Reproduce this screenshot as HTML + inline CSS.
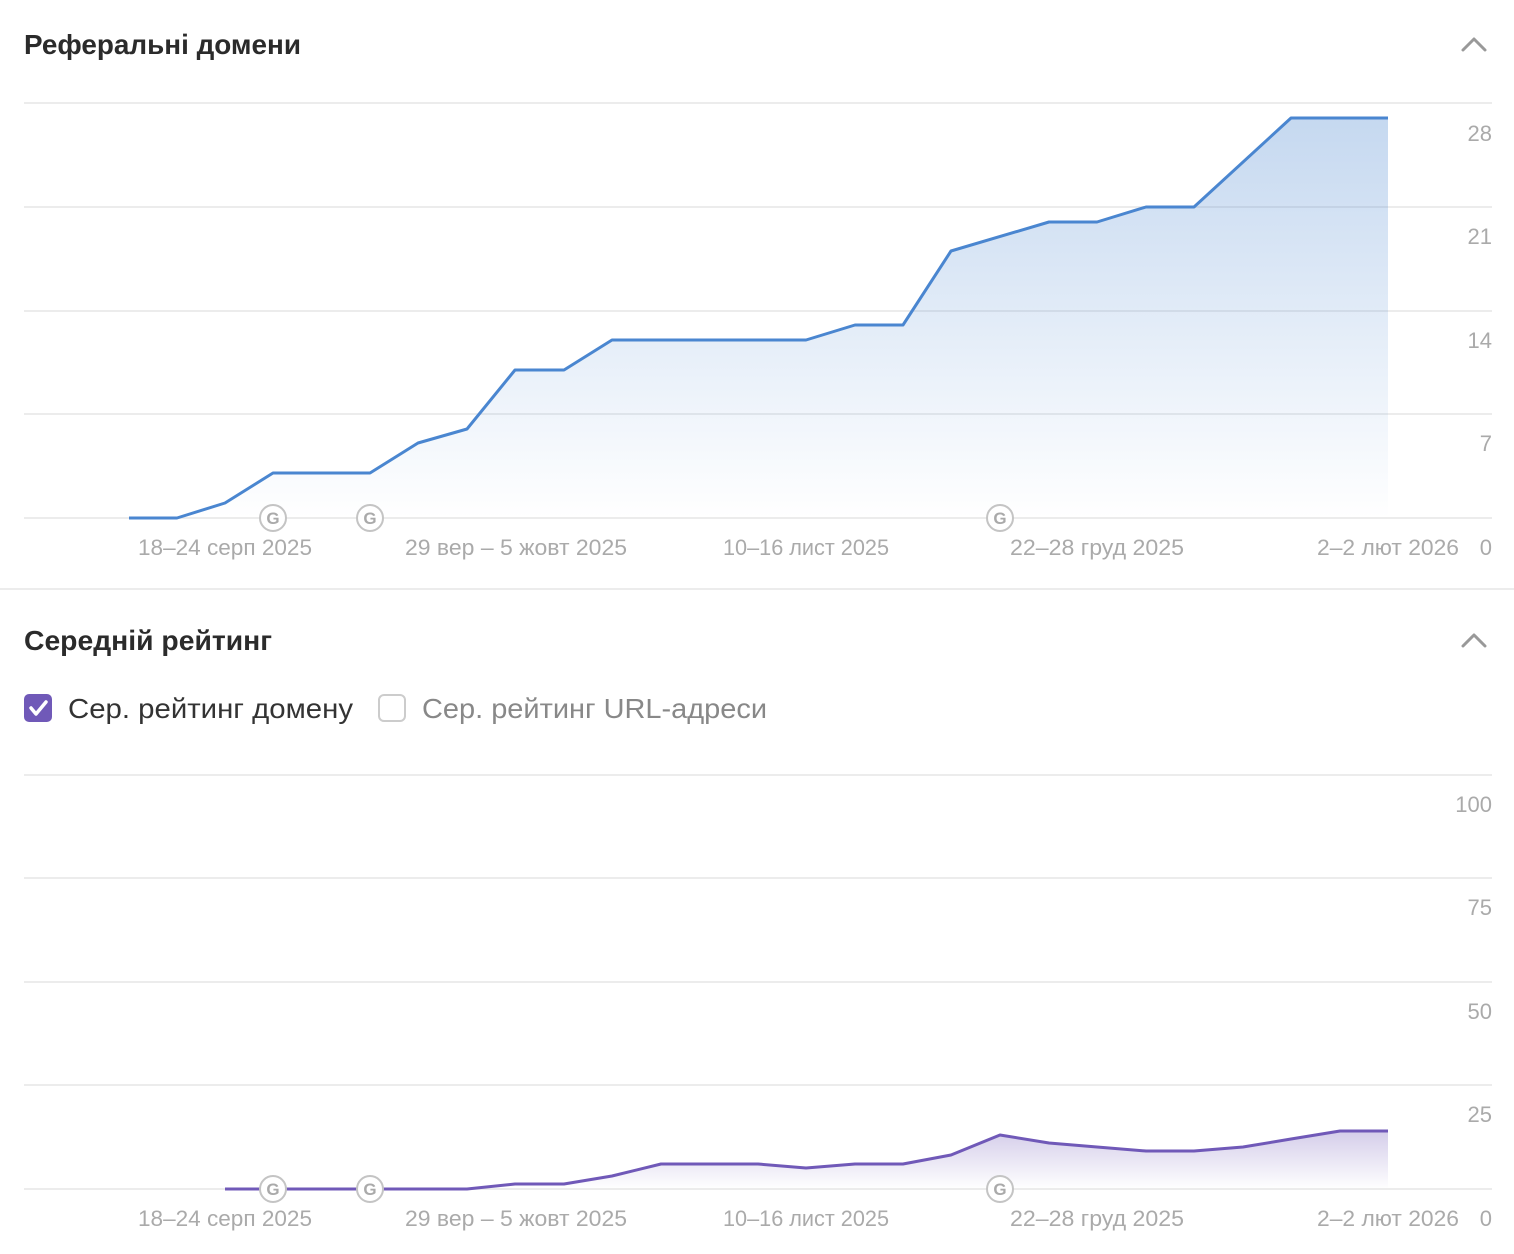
<!DOCTYPE html>
<html><head><meta charset="utf-8"><style>
html,body{margin:0;padding:0;background:#fff;}
svg{display:block;font-family:"Liberation Sans",sans-serif;}
</style></head><body>
<svg width="1514" height="1254" viewBox="0 0 1514 1254" xmlns="http://www.w3.org/2000/svg">
<defs>
<linearGradient id="g1" x1="0" y1="0" x2="0" y2="1"><stop offset="0" stop-color="#4a86d0" stop-opacity="0.32"/><stop offset="1" stop-color="#4a86d0" stop-opacity="0"/></linearGradient>
<linearGradient id="g2" x1="0" y1="0" x2="0" y2="1"><stop offset="0" stop-color="#7059b8" stop-opacity="0.3"/><stop offset="1" stop-color="#7059b8" stop-opacity="0"/></linearGradient>
</defs>
<text x="24" y="54" font-size="27.5" font-weight="bold" fill="#2b2b2b" textLength="277" lengthAdjust="spacingAndGlyphs">Реферальні домени</text>
<polyline points="1463,50 1474,39 1485,50" fill="none" stroke="#999" stroke-width="3" stroke-linecap="round" stroke-linejoin="round"/>
<g stroke="#e6e6e6" stroke-width="1.5">
<line x1="24" y1="103" x2="1492" y2="103"/><line x1="24" y1="207" x2="1492" y2="207"/><line x1="24" y1="311" x2="1492" y2="311"/><line x1="24" y1="414" x2="1492" y2="414"/><line x1="24" y1="518" x2="1492" y2="518"/>
</g>
<g font-size="22" fill="#aaa" text-anchor="end">
<text x="1492" y="141">28</text><text x="1492" y="244">21</text><text x="1492" y="348">14</text><text x="1492" y="451">7</text><text x="1492" y="555">0</text>
</g>
<polygon fill="url(#g1)" points="129,518 177,518 225,503 273,473 322,473 370,473 418,443 467,429 515,370 564,370 612,340 806,340 855,325 903,325 951,251 1049,222 1097,222 1146,207 1194,207 1291,118 1388,118 1388,518"/>
<polyline fill="none" stroke="#4a86d0" stroke-width="3" stroke-linejoin="round" points="129,518 177,518 225,503 273,473 322,473 370,473 418,443 467,429 515,370 564,370 612,340 806,340 855,325 903,325 951,251 1049,222 1097,222 1146,207 1194,207 1291,118 1388,118"/>
<g font-size="22" fill="#aaa" text-anchor="middle">
<text x="225" y="555" textLength="174" lengthAdjust="spacingAndGlyphs">18–24 серп 2025</text><text x="516" y="555" textLength="222" lengthAdjust="spacingAndGlyphs">29 вер – 5 жовт 2025</text><text x="806" y="555" textLength="166" lengthAdjust="spacingAndGlyphs">10–16 лист 2025</text><text x="1097" y="555" textLength="174" lengthAdjust="spacingAndGlyphs">22–28 груд 2025</text><text x="1388" y="555" textLength="142" lengthAdjust="spacingAndGlyphs">2–2 лют 2026</text>
</g>
<g fill="#fff" stroke="#c4c4c4" stroke-width="2">
<circle cx="273" cy="518" r="13"/><circle cx="370" cy="518" r="13"/><circle cx="1000" cy="518" r="13"/>
</g>
<g font-size="17" font-weight="bold" fill="#aaa" text-anchor="middle">
<text x="273" y="524">G</text><text x="370" y="524">G</text><text x="1000" y="524">G</text>
</g>
<line x1="0" y1="589" x2="1514" y2="589" stroke="#e6e6e6" stroke-width="1.5"/>
<text x="24" y="650" font-size="27.5" font-weight="bold" fill="#2b2b2b" textLength="248" lengthAdjust="spacingAndGlyphs">Середній рейтинг</text>
<polyline points="1463,646 1474,635 1485,646" fill="none" stroke="#999" stroke-width="3" stroke-linecap="round" stroke-linejoin="round"/>
<rect x="24" y="694" width="28" height="28" rx="5" fill="#7059b8"/>
<polyline points="31,708 36,714 46,702" fill="none" stroke="#fff" stroke-width="3.5" stroke-linecap="round" stroke-linejoin="round"/>
<text x="68" y="718" font-size="28" fill="#333" textLength="285" lengthAdjust="spacingAndGlyphs">Сер. рейтинг домену</text>
<rect x="379" y="695" width="26" height="26" rx="5" fill="#fff" stroke="#ccc" stroke-width="2"/>
<text x="422" y="718" font-size="28" fill="#888" textLength="345" lengthAdjust="spacingAndGlyphs">Сер. рейтинг URL-адреси</text>
<g stroke="#e6e6e6" stroke-width="1.5">
<line x1="24" y1="775" x2="1492" y2="775"/><line x1="24" y1="878" x2="1492" y2="878"/><line x1="24" y1="982" x2="1492" y2="982"/><line x1="24" y1="1085" x2="1492" y2="1085"/><line x1="24" y1="1189" x2="1492" y2="1189"/>
</g>
<g font-size="22" fill="#aaa" text-anchor="end">
<text x="1492" y="812">100</text><text x="1492" y="915">75</text><text x="1492" y="1019">50</text><text x="1492" y="1122">25</text><text x="1492" y="1226">0</text>
</g>
<polygon fill="url(#g2)" points="225,1189 467,1189 515,1184 564,1184 612,1176 661,1164 758,1164 806,1168 855,1164 903,1164 951,1155 1000,1135 1049,1143 1097,1147 1146,1151 1194,1151 1243,1147 1291,1139 1340,1131 1388,1131 1388,1189"/>
<polyline fill="none" stroke="#7059b8" stroke-width="3" stroke-linejoin="round" points="225,1189 467,1189 515,1184 564,1184 612,1176 661,1164 758,1164 806,1168 855,1164 903,1164 951,1155 1000,1135 1049,1143 1097,1147 1146,1151 1194,1151 1243,1147 1291,1139 1340,1131 1388,1131"/>
<g font-size="22" fill="#aaa" text-anchor="middle">
<text x="225" y="1226" textLength="174" lengthAdjust="spacingAndGlyphs">18–24 серп 2025</text><text x="516" y="1226" textLength="222" lengthAdjust="spacingAndGlyphs">29 вер – 5 жовт 2025</text><text x="806" y="1226" textLength="166" lengthAdjust="spacingAndGlyphs">10–16 лист 2025</text><text x="1097" y="1226" textLength="174" lengthAdjust="spacingAndGlyphs">22–28 груд 2025</text><text x="1388" y="1226" textLength="142" lengthAdjust="spacingAndGlyphs">2–2 лют 2026</text>
</g>
<g fill="#fff" stroke="#c4c4c4" stroke-width="2">
<circle cx="273" cy="1189" r="13"/><circle cx="370" cy="1189" r="13"/><circle cx="1000" cy="1189" r="13"/>
</g>
<g font-size="17" font-weight="bold" fill="#aaa" text-anchor="middle">
<text x="273" y="1195">G</text><text x="370" y="1195">G</text><text x="1000" y="1195">G</text>
</g>
</svg>
</body></html>
